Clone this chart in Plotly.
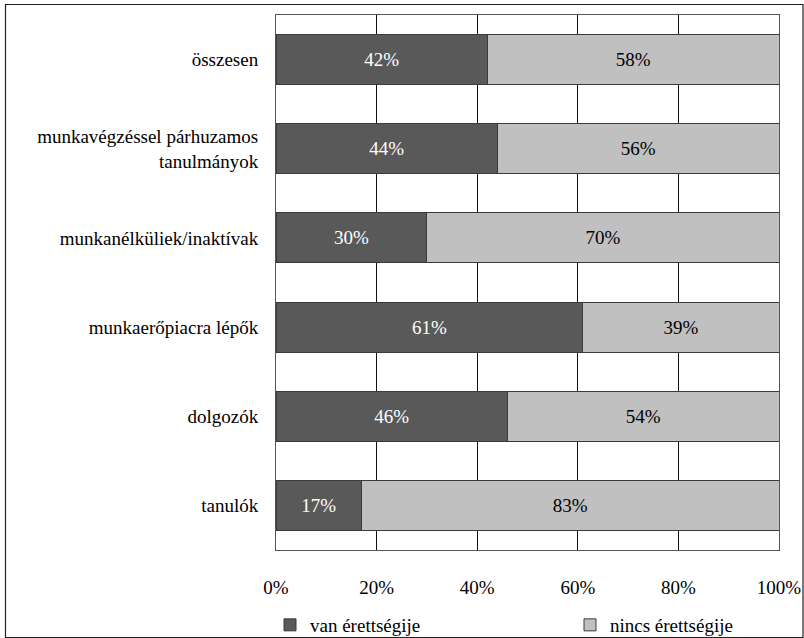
import plotly.graph_objects as go

categories = [
    "tanulók",
    "dolgozók",
    "munkaerőpiacra lépők",
    "munkanélküliek/inaktívak",
    "munkavégzéssel párhuzamos<br>tanulmányok",
    "összesen",
]
van_erettsegi = [17, 46, 61, 30, 44, 42]
nincs_erettsegi = [83, 54, 39, 70, 56, 58]
tick_values = [0, 20, 40, 60, 80, 100]
tick_labels = ["0%", "20%", "40%", "60%", "80%", "100%"]

FONT = "'Liberation Serif', 'Times New Roman', serif"
FS = 19

fig = go.Figure()
fig.add_trace(go.Bar(
    y=categories, x=van_erettsegi, orientation="h", name="van érettségije",
    marker=dict(color="#595959", line=dict(color="#3a3a3a", width=1)),
    texttemplate="%{x}%", textposition="inside", insidetextanchor="middle",
    textangle=0, insidetextfont=dict(color="white", size=FS, family=FONT),
    hoverinfo="skip", legend="legend",
))
fig.add_trace(go.Bar(
    y=categories, x=nincs_erettsegi, orientation="h", name="nincs érettségije",
    marker=dict(color="#c0c0c0", line=dict(color="#3a3a3a", width=1)),
    texttemplate="%{x}%", textposition="inside", insidetextanchor="middle",
    textangle=0, insidetextfont=dict(color="black", size=FS, family=FONT),
    hoverinfo="skip", legend="legend2",
))

legend_common = dict(
    orientation="h", xref="container", yref="container",
    xanchor="left", y=1 - 625 / 638, yanchor="middle",
    font=dict(size=FS, family=FONT), bgcolor="rgba(0,0,0,0)",
)

fig.update_layout(
    width=804, height=638,
    margin=dict(l=276, r=25, t=15, b=88, autoexpand=False),
    barmode="stack", bargap=0.44,
    paper_bgcolor="white", plot_bgcolor="white",
    font=dict(family=FONT, size=FS, color="black"),
    xaxis=dict(
        range=[0, 100], tickvals=tick_values, ticktext=tick_labels,
        showgrid=True, gridcolor="#111111", gridwidth=1,
        showline=True, linecolor="#555555", linewidth=1, mirror=True,
        ticks="", ticklabelstandoff=20, zeroline=False, fixedrange=True,
        tickfont=dict(size=FS, family=FONT),
    ),
    yaxis=dict(
        showgrid=False, showline=True, linecolor="#555555", linewidth=1,
        mirror=True, ticks="", ticklabelstandoff=13,
        tickfont=dict(size=FS, family=FONT), fixedrange=True,
    ),
    legend=dict(x=270 / 804, **legend_common),
    legend2=dict(x=570 / 804, **legend_common),
    showlegend=True,
)

# outer frame around the whole figure
fig.add_shape(
    type="rect", xref="paper", yref="paper",
    x0=(5.5 - 276) / 503, x1=(803 - 276) / 503,
    y0=(550 - 637.5) / 535, y1=(550 - 4.5) / 535,
    line=dict(color="#222222", width=1.2), fillcolor="rgba(0,0,0,0)",
    layer="below",
)

fig.write_html(
    "out.html",
    config={"displayModeBar": False},
    post_script="document.body.style.margin='0';document.body.style.padding='0';"
                "document.documentElement.style.overflow='hidden';",
)
